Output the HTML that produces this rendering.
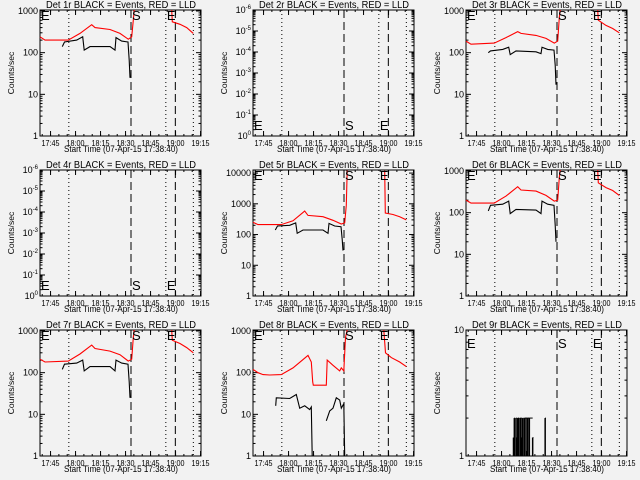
<!DOCTYPE html>
<html><head><meta charset="utf-8"><style>
html,body{margin:0;padding:0;background:#f2f2f2;}
svg{display:block;font-family:"Liberation Sans",sans-serif;}
</style></head><body>
<svg id="c" width="640" height="480" viewBox="0 0 640 480"></svg>
<script>
// shared time axis (minutes after 17:38:40)
const xTickLabels = ["17:45","18:00","18:15","18:30","18:45","19:00","19:15"];
const xTickMinutes = [6.33,21.33,36.33,51.33,66.33,81.33,96.33];
const dottedMarks = [17.3,75.5,92];
const dashedMarks = [54.6,81.2];
const redTimesPre = [0,3,17,24,31,33,42,48,53,55,56,56.5];
const redTimesPost = [79,79.4,84,88,92];
const blackTimes = [13.4,14.7,22,25.6,26.5,30,42,45,45.6,49,52.8,53.5,54];

const p1Red = [240,200,200,290,470,400,360,290,210,240,600,1100];
const p1RedPost = [1100,550,480,400,290];
const p1Black = [140,180,200,240,115,140,140,115,230,190,180,66,25];
const p3Red = [190,160,170,230,320,290,260,220,170,190,700,1100];
const p3RedPost = [1100,600,450,380,300];
const p3Black = [100,110,120,135,90,110,105,95,135,120,115,50,17];
const p5Red = [250,210,210,280,580,420,380,290,220,240,900,12000];
const p5RedPost = [12000,500,450,380,300];
const p5Black = [140,190,200,240,110,140,140,110,230,190,180,70,30];
const p6Red = [200,170,170,250,420,350,330,260,190,200,700,1100];
const p6RedPost = [1100,520,400,340,260];
const p6Black = [110,150,160,190,95,120,115,95,190,160,150,50,20];
const p7Red = [210,180,190,280,460,380,330,270,190,210,700,1100];
const p7RedPost = [1100,600,500,400,300];
const p7Black = [120,160,170,200,110,140,140,110,200,170,160,60,25];
const p8RedTimes = [0,3,6,10,17,24,33,35,35.8,36.2,44,44.5,48,52,53,54.5,55.5,56.5];
const p8Red = [120,100,90,88,90,130,260,180,60,50,50,200,150,110,130,110,700,1100];
const p8RedPostTimes = [78.5,79.5,83,88,92];
const p8RedPost = [1100,300,230,180,140];
const p8BlackTimesA = [13.6,14,22,26,28,31,34,35,35.5];
const p8BlackA = [16,25,24,30,14,16,13,15,1];
const p8BlackTimesB = [44,46,48,50,52,53,54.5,55];
const p8BlackB = [7,12,14,25,22,14,18,1];
const p9Times = [28.5,29,29.5,30,30.5,31,31.5,32,32.5,33,33.5,34,34.5,35,36,37,38,40,40.5,47.5,48];
const p9Vals = [1.4,2,1,2,1.4,2,2,1,2,2,1.4,2,1,2,2,2,2,1.4,1,2,1];

const svg = document.getElementById('c');
const NS = 'http://www.w3.org/2000/svg';
function mk(tag, attrs, parent){const e=document.createElementNS(NS,tag);for(const k in attrs)e.setAttribute(k,attrs[k]);(parent||svg).appendChild(e);return e;}

const panels = [
 {n:1,yLo:0,yHi:3.024,labels:["1","10","100","1000"],red:[[redTimesPre,p1Red],[redTimesPost,p1RedPost]],black:[[blackTimes,p1Black]],letY:'top'},
 {n:2,yLo:0,yHi:6,sci:true,red:[],black:[],letY:'bottom'},
 {n:3,yLo:0,yHi:3.024,labels:["1","10","100","1000"],red:[[redTimesPre,p3Red],[redTimesPost,p3RedPost]],black:[[blackTimes,p3Black]],letY:'top'},
 {n:4,yLo:0,yHi:6,sci:true,red:[],black:[],letY:'bottom'},
 {n:5,yLo:0,yHi:4.1,labels:["1","10","100","1000","10000"],red:[[redTimesPre,p5Red],[redTimesPost,p5RedPost]],black:[[blackTimes,p5Black]],letY:'top'},
 {n:6,yLo:0,yHi:3.024,labels:["1","10","100","1000"],red:[[redTimesPre,p6Red],[redTimesPost,p6RedPost]],black:[[blackTimes,p6Black]],letY:'top'},
 {n:7,yLo:0,yHi:3.024,labels:["1","10","100","1000"],red:[[redTimesPre,p7Red],[redTimesPost,p7RedPost]],black:[[blackTimes,p7Black]],letY:'top'},
 {n:8,yLo:0,yHi:3.024,labels:["1","10","100","1000"],red:[[p8RedTimes,p8Red],[p8RedPostTimes,p8RedPost]],black:[[p8BlackTimesA,p8BlackA],[p8BlackTimesB,p8BlackB]],letY:'top'},
 {n:9,yLo:0,yHi:1,labels:["1","10"],red:[],black:[],bars:true,letY:'upper'}
];

panels.forEach((p,i)=>{
  const col=i%3,row=Math.floor(i/3);
  const ox=col*213,oy=row*160;
  const L=ox+40,R=ox+201,T=oy+10,B=oy+136;
  const g=mk('g',{});
  
  
  const xs=m=>L+m*(R-L)/96.6;
  const ys=v=>B-(Math.log10(v)-p.yLo)/(p.yHi-p.yLo)*(B-T);
  const yl=e=>B-(e-p.yLo)/(p.yHi-p.yLo)*(B-T);
  const t=mk('text',{x:ox+46,y:oy+8,'font-size':'10',textLength:150,lengthAdjust:'spacingAndGlyphs'},g);
  t.textContent='Det '+p.n+'r BLACK = Events, RED = LLD';
  
  
  const box=mk('rect',{x:L,y:T,width:R-L,height:B-T,fill:'none',stroke:'#000','stroke-width':1},g);
  
  
  xTickMinutes.forEach((m,k)=>{
    const x=xs(m);
    mk('line',{x1:x,x2:x,y1:B,y2:B-5,stroke:'#000'},g);
    mk('line',{x1:x,x2:x,y1:T,y2:T+5,stroke:'#000'},g);
    const lb=mk('text',{x:x-9,y:B+10,'font-size':'8.5',textLength:18,lengthAdjust:'spacingAndGlyphs'},g);
    lb.textContent=xTickLabels[k];
    
    
  });
  for(let m=1.33;m<96.6;m+=5){const x=xs(m);mk('line',{x1:x,x2:x,y1:B,y2:B-2,stroke:'#000'},g);mk('line',{x1:x,x2:x,y1:T,y2:T+2,stroke:'#000'},g);}
  const xt=mk('text',{x:ox+64,y:oy+152,'font-size':'9','textLength':114,lengthAdjust:'spacingAndGlyphs'},g);
  xt.textContent='Start Time (07-Apr-15 17:38:40)';
  
  
  const yt=mk('text',{x:0,y:0,'text-anchor':'middle','font-size':'8.5',transform:`translate(${ox+14},${oy+73}) rotate(-90)`},g);
  yt.textContent='Counts/sec';
  
  
  for(let e=Math.ceil(p.yLo);e<=p.yHi+1e-6;e++){
    const y=yl(e);
    mk('line',{x1:L,x2:L+5,y1:y,y2:y,stroke:'#000'},g);
    mk('line',{x1:R,x2:R-5,y1:y,y2:y,stroke:'#000'},g);
    const lb=mk('text',{x:L-2,y:y+3,'text-anchor':'end','font-size':'9'},g);
    
    
    if(p.sci){lb.textContent='10';const s=mk('tspan',{dy:-4,'font-size':'6'},lb);s.textContent=e===0?'0':'-'+e;}
    else lb.textContent=p.labels[e];
    for(let k=2;k<10;k++){const ev=e+Math.log10(k);if(ev>p.yHi)break;const yy=yl(ev);
      mk('line',{x1:L,x2:L+2.5,y1:yy,y2:yy,stroke:'#000'},g);mk('line',{x1:R,x2:R-2.5,y1:yy,y2:yy,stroke:'#000'},g);}
  }
  dottedMarks.forEach(m=>{const l=mk('line',{x1:xs(m),x2:xs(m),y1:T,y2:B,stroke:'#000','stroke-dasharray':'1,3'},g);
    });
  dashedMarks.forEach(m=>{const l=mk('line',{x1:xs(m),x2:xs(m),y1:T,y2:B,stroke:'#000','stroke-dasharray':'8,4'},g);
    });
  const drawSeries=(arr,color,name)=>arr.forEach(([tm,vals])=>{
    const pts=tm.map((m,k)=>xs(m).toFixed(1)+','+Math.max(T,Math.min(B,ys(Math.max(vals[k],1)))).toFixed(1)).join(' ');
    const pl=mk('polyline',{points:pts,fill:'none',stroke:color,'stroke-width':1.1},g);
    
    
  });
  drawSeries(p.red,'#ff0000','red-lld-series');
  drawSeries(p.black,'#000000','black-events-series');
  if(p.bars){
    p9Times.forEach((m,k)=>{const l=mk('line',{x1:xs(m),x2:xs(m),y1:B,y2:ys(p9Vals[k]),stroke:'#000','stroke-width':1.5},g);
      });
    for(let k=0;k<p9Times.length-1;k++){if(p9Vals[k]>1){mk('line',{x1:xs(p9Times[k]),x2:xs(p9Times[k+1]),y1:ys(p9Vals[k]),y2:ys(p9Vals[k]),stroke:'#000'},g);}}
  }
  const ly=p.letY==='top'?T+10:(p.letY==='bottom'?B-6:T+18);
  [[L+1,'E'],[xs(dashedMarks[0])+1,'S'],[xs(dottedMarks[1])+1,'E']].forEach(([x,s])=>{
    const tx=mk('text',{x:x,y:ly,'font-size':'13'},g);tx.textContent=s;
    
    
  });
});
</script>
</body></html>
